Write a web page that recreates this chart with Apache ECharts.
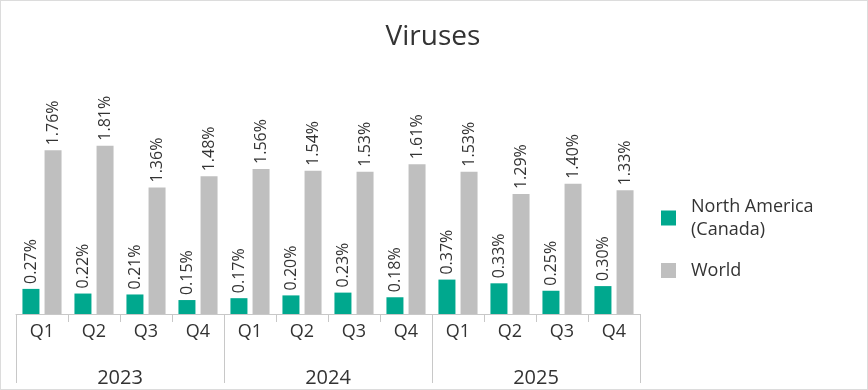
<!DOCTYPE html>
<html>
<head>
<meta charset="utf-8">
<script src="https://cdn.jsdelivr.net/npm/echarts@6/dist/echarts.min.js"></script>
<style>
html,body{margin:0;padding:0;background:#fff;}
#chart{width:868px;height:390px;box-sizing:border-box;border:1px solid #dcdcdc;}
</style>
</head>
<body>
<div id="chart"></div>
<script>
const title = "Viruses";
const quarters = ["Q1","Q2","Q3","Q4","Q1","Q2","Q3","Q4","Q1","Q2","Q3","Q4"];
const years = ["2023","2024","2025"];
const seriesNames = ["North America\n(Canada)", "World"];
const northAmerica = [0.27,0.22,0.21,0.15,0.17,0.20,0.23,0.18,0.37,0.33,0.25,0.30];
const world = [1.76,1.81,1.36,1.48,1.56,1.54,1.53,1.61,1.53,1.29,1.40,1.33];

const FONT = "'Open Sans', 'Noto Sans', sans-serif";
const chart = echarts.init(document.getElementById('chart'), null, {renderer:'canvas'});
const labelCfg = {
  show: true,
  position: 'top',
  rotate: 90,
  align: 'left',
  verticalAlign: 'middle',
  distance: 5,
  fontSize: 16,
  fontFamily: FONT,
  color: '#333',
  formatter: p => p.value.toFixed(2) + '%'
};
chart.setOption({
  animation: false,
  title: {
    text: title, left: 427, top: 17, textAlign: 'center',
    textStyle: {fontSize: 28, fontWeight: 'normal', color: '#333', fontFamily: FONT}
  },
  legend: {
    orient: 'vertical', left: 655, top: 189,
    itemWidth: 15, itemHeight: 15, itemGap: 18,
    icon: 'rect',
    textStyle: {fontSize: 18, color: '#333', fontFamily: FONT, lineHeight: 23, padding:[0,0,0,10]},
    data: seriesNames
  },
  grid: {left: 15, right: 227, top: 127, bottom: 75, containLabel: false},
  xAxis: [
    {
      type: 'category', data: quarters, position: 'bottom',
      axisLine: {show: true, lineStyle: {color: '#c8c8c8', width: 1}},
      axisTick: {show: true, length: 8, lineStyle: {color: '#c8c8c8'}},
      axisLabel: {fontSize: 18, color: '#333', fontFamily: FONT, margin: 9, interval: 0}
    },
    {
      type: 'category', data: years, position: 'bottom',
      axisLine: {show: false},
      axisTick: {show: true, length: 69, lineStyle: {color: '#c8c8c8'}},
      axisLabel: {fontSize: 20, color: '#333', fontFamily: FONT, margin: 54}
    }
  ],
  yAxis: {type: 'value', min: 0, max: 2, show: false, splitLine: {show: false}},
  series: [
    {
      name: seriesNames[0], type: 'bar', xAxisIndex: 0, data: northAmerica,
      barWidth: 17, barGap: '30%',
      itemStyle: {color: '#00A88E'},
      label: labelCfg
    },
    {
      name: seriesNames[1], type: 'bar', xAxisIndex: 0, data: world,
      barWidth: 17, barGap: '30%',
      itemStyle: {color: '#BFBFBF'},
      label: labelCfg
    }
  ]
});
</script>
</body>
</html>
